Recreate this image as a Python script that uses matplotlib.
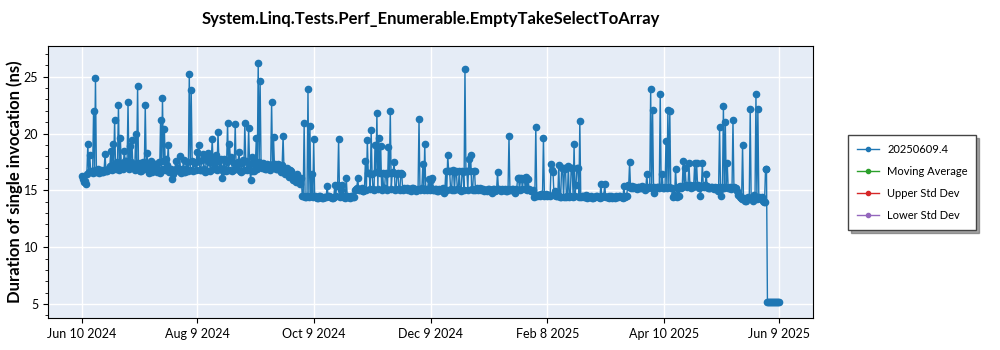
import pandas as pd
import matplotlib
matplotlib.use("Agg")
import matplotlib.pyplot as plt
import matplotlib.dates as mdates
from matplotlib.ticker import MultipleLocator

plt.rcParams['font.family'] = ['Lato', 'DejaVu Sans']

title = "System.Linq.Tests.Perf_Enumerable.EmptyTakeSelectToArray"
series_name = "20250609.4"
start_date = "2024-06-10"

# morning run, one reading per day (ns)
jun_jul_2024 = [
    16.3, 15.7, 15.6, 19.1, 18.1, 16.6, 22.0, 24.9, 16.7, 16.5,
    16.8, 16.6, 18.2, 16.7, 16.9, 18.5, 19.1, 21.2, 17.3, 22.5,
    19.6, 17.4, 18.5, 17.6, 22.8, 18.9, 19.4, 17.2, 20.0, 24.2,
    17.4, 16.7, 17.5, 22.5, 18.3, 16.5, 17.6, 16.9, 17.3, 16.6,
    17.5, 21.2, 23.1, 20.4, 17.8, 19.0, 16.9, 16.0, 16.7, 17.6,
    16.8, 18.0, 16.9, 17.7, 16.6, 17.5, 25.2, 23.8, 16.7, 17.4,
]
aug_sep_2024 = [
    18.4, 19.0, 16.8, 18.2, 16.6, 17.8, 18.3, 16.7, 19.5, 17.3,
    18.1, 20.1, 17.0, 16.1, 17.8, 16.7, 20.9, 19.1, 17.9, 16.8,
    20.8, 17.2, 18.4, 16.6, 17.7, 20.9, 16.8, 20.5, 15.9, 17.9,
    16.7, 19.6, 26.2, 24.6, 17.0, 17.3, 16.9, 17.2, 16.8, 22.8,
    19.7, 17.3, 16.9, 17.2, 16.6, 19.8, 16.4, 17.0, 16.2, 16.7,
    15.9, 16.3, 15.7, 16.1, 15.6, 14.5, 20.9, 14.4, 23.9, 20.7,
]
oct_nov_2024 = [
    16.4, 19.5, 14.4, 14.3, 14.5, 14.4, 14.3, 14.4, 15.4, 14.5,
    14.4, 14.3, 15.5, 15.4, 19.5, 15.0, 15.5, 14.5, 16.1, 14.4,
    14.3, 14.5, 14.4, 15.1, 16.1, 15.0, 15.2, 14.9, 17.6, 19.4,
    16.5, 20.3, 15.1, 19.0, 21.8, 19.6, 18.9, 16.5, 15.2, 16.4,
    18.8, 22.0, 16.5, 17.5, 15.1, 16.5, 15.0, 16.4, 15.2, 15.1,
    15.0, 15.1, 14.9, 15.2, 15.1, 15.0, 21.3, 15.1, 17.3, 19.1,
]
dec_2024_jan_2025 = [
    15.0, 16.0, 15.9, 16.1, 15.0, 15.1, 14.9, 15.0, 15.1, 14.8,
    16.7, 18.1, 16.7, 15.0, 16.8, 16.6, 15.1, 16.7, 14.9, 16.6,
    25.7, 16.7, 17.8, 18.1, 15.0, 16.7, 15.1, 15.0, 15.2, 15.1,
    14.9, 15.0, 15.1, 15.0, 14.8, 15.1, 15.0, 16.6, 15.1, 14.9,
    15.0, 15.1, 14.9, 19.8, 15.0, 15.1, 14.8, 15.0, 16.1, 16.0,
    15.1, 16.1, 16.2, 16.0, 15.0, 14.9, 14.4, 20.6, 14.6, 14.5,
]
feb_mar_2025 = [
    14.7, 19.6, 14.6, 14.5, 14.6, 17.3, 16.6, 14.9, 14.5, 17.2,
    14.4, 17.0, 16.9, 14.4, 17.1, 14.5, 17.0, 19.1, 15.5, 17.0,
    21.1, 14.5, 14.4, 14.6, 14.4, 14.4, 14.5, 14.3, 14.4, 14.5,
    14.4, 15.6, 14.5, 15.6, 14.4, 14.5, 14.4, 14.3, 14.4, 14.5,
    14.4, 14.5, 14.4, 15.4, 14.5, 15.5, 17.5, 15.3, 15.2, 15.3,
    15.1, 15.3, 15.2, 15.3, 15.0, 16.4, 15.3, 23.9, 22.1, 14.8,
]
apr_jun_2025 = [
    15.2, 15.3, 23.5, 16.4, 15.2, 19.3, 22.1, 22.0, 15.2, 14.6,
    16.9, 14.4, 14.5, 15.2, 17.6, 17.0, 15.3, 17.4, 15.2, 15.3,
    17.4, 17.4, 15.2, 14.5, 17.4, 15.3, 16.4, 15.2, 15.2, 15.3,
    15.1, 15.2, 14.9, 20.6, 14.5, 22.4, 21.0, 17.4, 15.2, 15.1,
    21.2, 15.2, 14.9, 14.6, 14.3, 19.0, 14.2, 14.1, 14.4, 22.2,
    14.2, 14.6, 23.5, 22.2, 14.3, 14.4, 14.0, 16.9, 5.2, 5.2,
    5.2, 5.2, 5.2, 5.2, 5.2,
]

# evening run, half a day later (baseline band)
jun_jul_2024_pm = [
    16.0, 15.8, 16.4, 16.6, 16.7, 16.5, 16.8, 16.6, 16.9, 16.7,
    16.6, 16.8, 16.7, 16.9, 17.1, 16.8, 17.3, 16.9, 17.5, 16.8,
    17.2, 16.9, 17.6, 17.3, 16.9, 17.5, 17.2, 16.8, 17.4, 16.9,
    16.7, 17.2, 16.9, 17.4, 16.8, 17.1, 16.6, 17.3, 16.9, 16.7,
    16.5, 16.9, 17.6, 16.8, 17.2, 16.6, 16.9, 16.4, 16.8, 17.0,
    16.7, 16.5, 16.8, 16.6, 16.9, 16.7, 16.8, 17.6, 17.5, 16.8,
]
aug_sep_2024_pm = [
    17.6, 16.8, 17.7, 16.9, 17.8, 16.7, 17.5, 17.8, 16.9, 17.7,
    16.8, 17.6, 17.8, 16.7, 16.9, 17.5, 16.8, 17.7, 16.7, 17.4,
    16.9, 17.5, 16.7, 17.4, 16.8, 17.6, 16.9, 17.3, 16.7, 17.5,
    17.2, 16.9, 17.5, 17.3, 17.4, 16.9, 17.3, 17.2, 17.0, 17.3,
    17.1, 16.9, 17.3, 16.8, 17.2, 16.7, 16.9, 16.5, 16.8, 16.3,
    16.2, 16.0, 16.4, 15.8, 16.1, 14.5, 14.4, 14.5, 14.4, 14.5,
]
oct_nov_2024_pm = [
    14.4, 14.5, 14.3, 14.4, 14.5, 14.3, 14.4, 14.4, 14.5, 14.4,
    14.3, 14.4, 14.5, 15.5, 14.4, 14.5, 14.4, 14.3, 14.5, 14.4,
    14.5, 14.4, 15.0, 15.2, 15.0, 15.1, 14.9, 15.1, 15.0, 16.5,
    15.1, 16.4, 15.0, 16.6, 15.1, 16.5, 15.0, 15.2, 16.5, 15.0,
    16.5, 15.1, 16.6, 15.0, 16.4, 15.1, 16.5, 15.0, 15.1, 15.2,
    15.1, 15.0, 15.2, 15.1, 14.9, 15.1, 15.0, 15.2, 15.0, 15.1,
]
dec_2024_jan_2025_pm = [
    15.1, 15.0, 15.2, 15.0, 15.1, 14.9, 15.1, 15.0, 15.2, 15.0,
    15.0, 16.7, 15.1, 16.7, 15.0, 16.7, 15.1, 15.0, 16.7, 15.0,
    16.7, 15.0, 16.7, 15.1, 16.7, 15.0, 15.2, 15.1, 15.0, 15.1,
    15.0, 14.9, 15.1, 15.0, 15.1, 14.9, 15.0, 15.1, 15.0, 15.1,
    15.0, 14.9, 15.1, 15.0, 15.1, 15.0, 15.1, 16.1, 15.0, 16.1,
    16.0, 15.1, 15.0, 15.1, 14.9, 15.0, 14.6, 14.5, 14.6, 14.7,
]
feb_mar_2025_pm = [
    14.6, 14.5, 14.7, 14.6, 14.5, 16.8, 14.6, 14.5, 14.6, 14.4,
    17.0, 14.4, 17.0, 14.5, 14.4, 17.0, 14.4, 14.5, 17.0, 14.4,
    14.4, 14.5, 14.4, 14.3, 14.5, 14.4, 14.3, 14.4, 14.5, 14.4,
    14.3, 14.4, 14.5, 14.4, 14.4, 14.3, 14.5, 14.4, 14.3, 14.4,
    14.5, 14.4, 14.3, 14.4, 14.5, 15.3, 15.2, 15.4, 15.3, 15.2,
    15.3, 15.2, 15.4, 15.2, 15.3, 15.2, 15.3, 15.2, 15.3, 15.2,
]
apr_jun_2025_pm = [
    15.3, 15.2, 15.3, 15.2, 15.3, 15.2, 15.3, 15.2, 14.4, 14.5,
    15.2, 15.3, 15.4, 15.3, 15.4, 15.5, 15.4, 15.5, 15.4, 15.5,
    15.4, 15.5, 15.4, 15.3, 15.4, 15.5, 15.4, 15.2, 15.3, 15.2,
    15.3, 15.2, 15.3, 15.1, 15.3, 15.2, 15.3, 15.2, 15.3, 15.2,
    15.3, 15.2, 14.6, 14.4, 14.2, 14.3, 14.1, 14.2, 14.3, 14.2,
    14.1, 14.3, 14.2, 14.4, 14.2, 14.1, 14.0, 16.9, 5.2, 5.2,
    5.2, 5.2, 5.2, 5.2,
]

am = (jun_jul_2024 + aug_sep_2024 + oct_nov_2024
      + dec_2024_jan_2025 + feb_mar_2025 + apr_jun_2025)
pm = (jun_jul_2024_pm + aug_sep_2024_pm + oct_nov_2024_pm
      + dec_2024_jan_2025_pm + feb_mar_2025_pm + apr_jun_2025_pm)

runs = pd.concat([
    pd.DataFrame({"date": pd.date_range(start_date, periods=len(am), freq="D"),
                  "ns": am}),
    pd.DataFrame({"date": pd.date_range(start_date, periods=len(pm), freq="D")
                  + pd.Timedelta(hours=12), "ns": pm}),
]).sort_values("date")

tick_dates = pd.to_datetime(["2024-06-10", "2024-08-09", "2024-10-09",
                             "2024-12-09", "2025-02-08", "2025-04-10",
                             "2025-06-09"])

fig = plt.figure(figsize=(10, 3.5), dpi=100)
ax = fig.add_axes([0.048, 0.0914, 0.765, 0.7772])
ax.set_facecolor("#e5ecf6")

ax.plot(runs["date"], runs["ns"], color="#1f77b4", lw=1, marker="o", ms=4.5,
        label=series_name)
# empty companion series, they only show in the legend
ax.plot([], [], color="#2ca02c", lw=1, marker="o", ms=3, label="Moving Average")
ax.plot([], [], color="#d62728", lw=1, marker="o", ms=3, label="Upper Std Dev")
ax.plot([], [], color="#9467bd", lw=1, marker="o", ms=3, label="Lower Std Dev")

ax.set_xlim(tick_dates[0] - pd.Timedelta(days=17.8),
            tick_dates[-1] + pd.Timedelta(days=17.8))
ax.set_ylim(3.77, 27.7)
ax.set_xticks(tick_dates)
ax.xaxis.set_major_formatter(mdates.DateFormatter("%b %-d %Y"))
ax.yaxis.set_major_locator(MultipleLocator(5))
ax.yaxis.set_minor_locator(MultipleLocator(1))
ax.tick_params(labelsize=9)
ax.grid(True, color="white", lw=1)
ax.set_axisbelow(True)
for s in ax.spines.values():
    s.set_color("black")

ax.set_title(title, fontsize=12, fontweight="bold", pad=16)
ax.set_ylabel("Duration of single invocation (ns)", fontsize=12,
              fontweight="bold")
ax.yaxis.set_label_coords(-0.033, 0.5)

leg = ax.legend(loc="upper left", bbox_to_anchor=(1.046, 0.673), fontsize=8,
                fancybox=False, shadow=True, edgecolor="#444444",
                borderaxespad=0, borderpad=0.8, labelspacing=1.0,
                handlelength=2.0, handletextpad=0.7)
leg.get_frame().set_linewidth(1)
leg.legend_handles[0].set_markersize(3)

plt.savefig("out.png")
